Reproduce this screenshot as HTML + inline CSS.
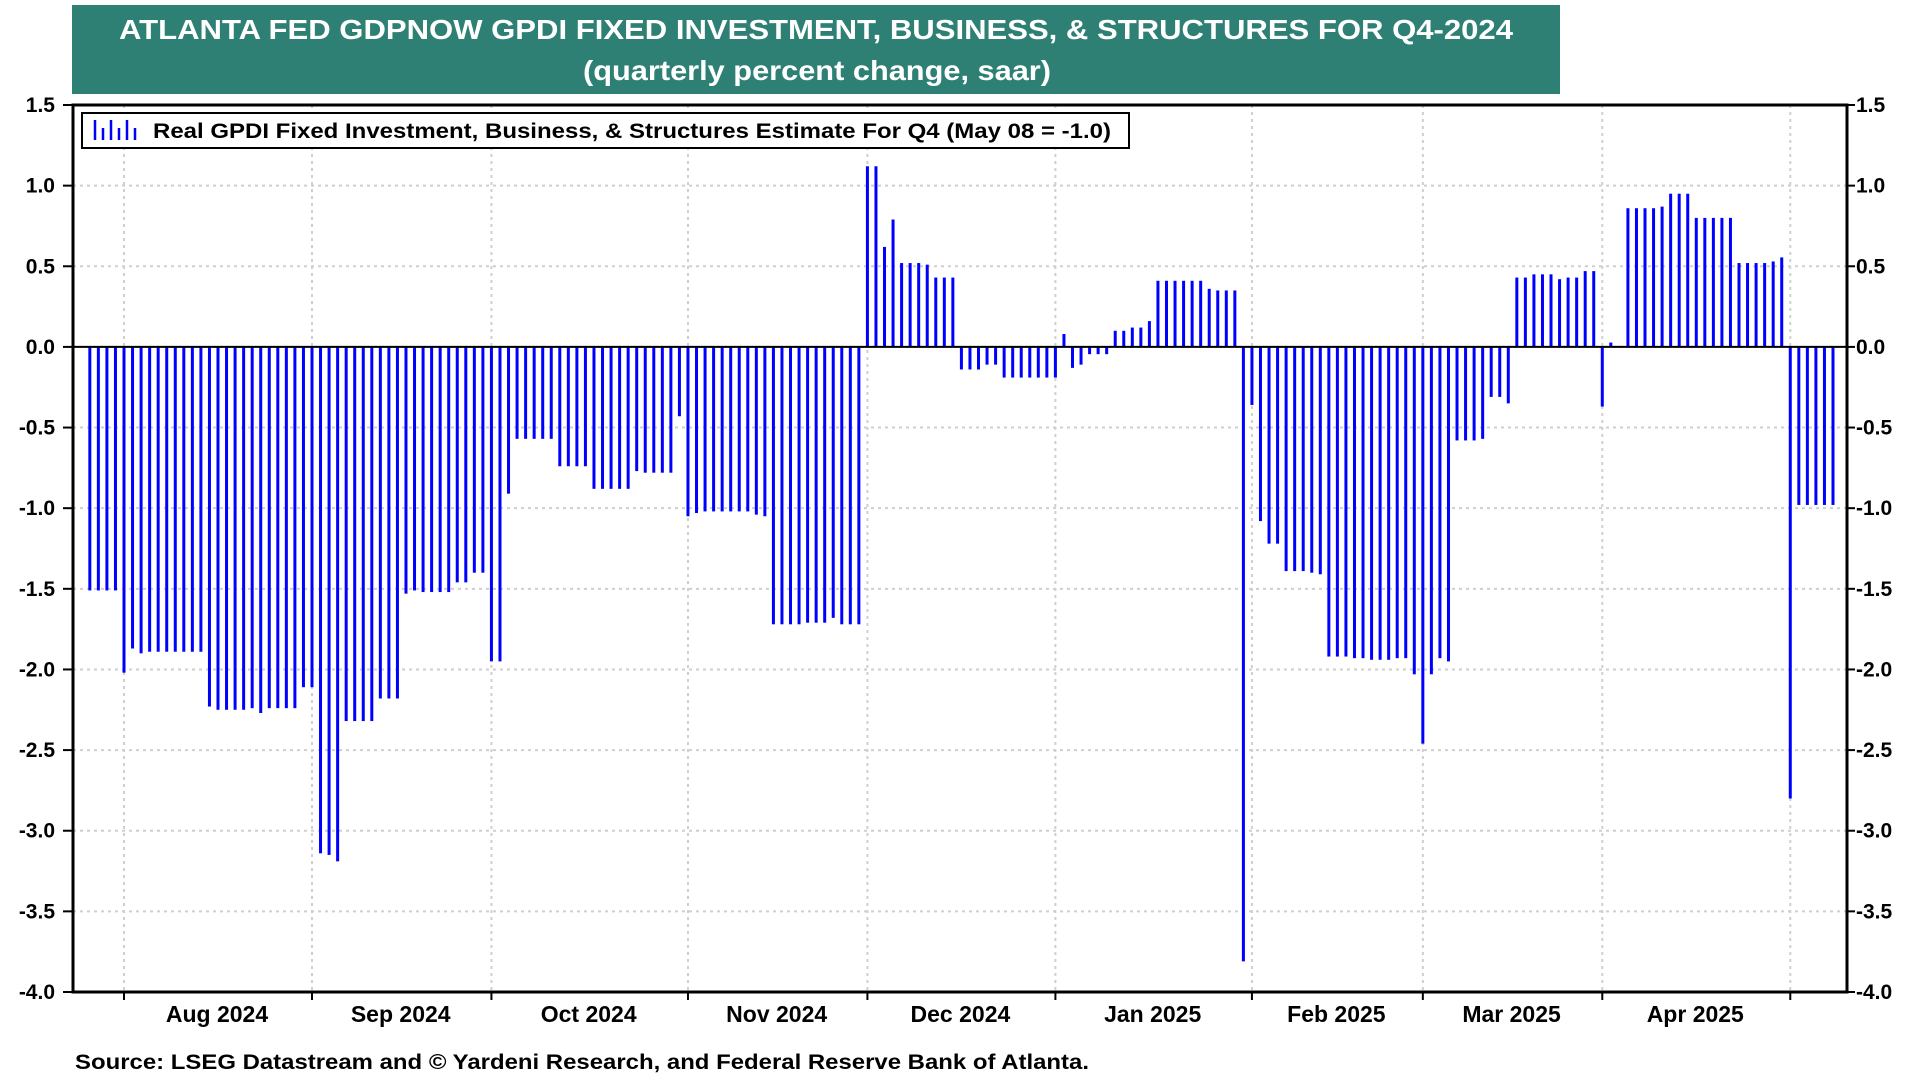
<!DOCTYPE html>
<html><head><meta charset="utf-8"><title>GDPNow GPDI Fixed Investment, Business & Structures</title>
<style>
html,body{margin:0;padding:0;background:#fff;}
svg{display:block;font-family:"Liberation Sans",Arial,sans-serif;font-weight:bold;}
</style></head>
<body>
<svg id="chart" width="1920" height="1080" viewBox="0 0 1920 1080" xmlns="http://www.w3.org/2000/svg">
  <rect x="72" y="5" width="1488" height="89" fill="#2e8074"/>
  <text x="816" y="39" text-anchor="middle" fill="#fff" font-size="28" textLength="1394" lengthAdjust="spacingAndGlyphs">ATLANTA FED GDPNOW GPDI FIXED INVESTMENT, BUSINESS, &amp; STRUCTURES FOR Q4-2024</text>
  <text x="817" y="80" text-anchor="middle" fill="#fff" font-size="28" textLength="468" lengthAdjust="spacingAndGlyphs">(quarterly percent change, saar)</text>
  <g id="grid"></g>
  <g id="bars"></g>
  <g id="axes"></g>
  <rect x="73" y="105" width="1774" height="887" fill="none" stroke="#000" stroke-width="3"/>
  <g>
    <rect x="82" y="113" width="1047" height="35" fill="#fff" stroke="#000" stroke-width="2"/>
    <g stroke="#0000ff" stroke-width="2.5">
      <line x1="95" y1="120" x2="95" y2="140"/><line x1="103" y1="128" x2="103" y2="140"/>
      <line x1="111" y1="120" x2="111" y2="140"/><line x1="119" y1="128" x2="119" y2="140"/>
      <line x1="127" y1="120" x2="127" y2="140"/><line x1="135" y1="128" x2="135" y2="140"/>
    </g>
    <text x="153" y="138" font-size="21" fill="#000" textLength="958" lengthAdjust="spacingAndGlyphs">Real GPDI Fixed Investment, Business, &amp; Structures Estimate For Q4 (May 08 = -1.0)</text>
  </g>
  <text x="75" y="1069" font-size="21" fill="#000" textLength="1014" lengthAdjust="spacingAndGlyphs">Source: LSEG Datastream and © Yardeni Research, and Federal Reserve Bank of Atlanta.</text>
</svg>
<script>
// ---- data (one value per weekday starting Fri Jul 26, 2024) ----
const startDate = "2024-07-26";
const valuesJul = [-1.51,-1.51,-1.51,-1.51];
const valuesAug = [-2.02,-1.87,-1.90,-1.89,-1.89,-1.89,-1.89,-1.89,-1.89,-1.89,-2.23,-2.25,-2.25,-2.25,-2.25,-2.24,-2.27,-2.24,-2.24,-2.24,-2.24,-2.11];
const valuesSep = [-2.11,-3.14,-3.15,-3.19,-2.32,-2.32,-2.32,-2.32,-2.18,-2.18,-2.18,-1.53,-1.51,-1.52,-1.52,-1.52,-1.52,-1.46,-1.46,-1.40,-1.40];
const valuesOct = [-1.95,-1.95,-0.91,-0.57,-0.57,-0.57,-0.57,-0.57,-0.74,-0.74,-0.74,-0.74,-0.88,-0.88,-0.88,-0.88,-0.88,-0.77,-0.78,-0.78,-0.78,-0.78,-0.43];
const valuesNov = [-1.05,-1.03,-1.02,-1.02,-1.02,-1.02,-1.02,-1.02,-1.04,-1.05,-1.72,-1.72,-1.72,-1.72,-1.71,-1.71,-1.71,-1.68,-1.72,-1.72,-1.72];
const valuesDec = [1.12,1.12,0.62,0.79,0.52,0.52,0.52,0.51,0.43,0.43,0.43,-0.14,-0.14,-0.14,-0.11,-0.11,-0.19,-0.19,-0.19,-0.19,-0.19,-0.19];
const valuesJan = [-0.19,0.08,-0.13,-0.11,-0.045,-0.045,-0.045,0.10,0.10,0.12,0.12,0.16,0.41,0.41,0.41,0.41,0.41,0.41,0.36,0.35,0.35,0.35,-3.81];
const valuesFeb = [-0.36,-1.08,-1.22,-1.22,-1.39,-1.39,-1.39,-1.40,-1.41,-1.92,-1.92,-1.92,-1.93,-1.93,-1.94,-1.94,-1.94,-1.93,-1.93,-2.03];
const valuesMar = [-2.46,-2.03,-1.93,-1.95,-0.58,-0.58,-0.58,-0.57,-0.31,-0.31,-0.35,0.43,0.43,0.45,0.45,0.45,0.42,0.43,0.43,0.47,0.47];
const valuesApr = [-0.37,0.027,0.006,0.86,0.86,0.86,0.86,0.87,0.95,0.95,0.95,0.80,0.80,0.80,0.80,0.80,0.52,0.52,0.52,0.52,0.53,0.555];
const valuesMay = [-2.80,-0.98,-0.98,-0.98,-0.98,-0.98];
const yTicks = [1.5,1.0,0.5,0.0,-0.5,-1.0,-1.5,-2.0,-2.5,-3.0,-3.5,-4.0];
const monthStarts = ["2024-08-01","2024-09-01","2024-10-01","2024-11-01","2024-12-01","2025-01-01","2025-02-01","2025-03-01","2025-04-01","2025-05-01"];
const monthLabels = ["Aug 2024","Sep 2024","Oct 2024","Nov 2024","Dec 2024","Jan 2025","Feb 2025","Mar 2025","Apr 2025"];

const values = [].concat(valuesJul,valuesAug,valuesSep,valuesOct,valuesNov,valuesDec,valuesJan,valuesFeb,valuesMar,valuesApr,valuesMay);
const NS = "http://www.w3.org/2000/svg";
const PL = 73, PR = 1847, PT = 105, PB = 992;
const Y_MAX = 1.5, Y_MIN = -4.0;
function yScale(v){ return PT + (Y_MAX - v) / (Y_MAX - Y_MIN) * (PB - PT); }
function parse(s){ const p = s.split("-").map(Number); return Date.UTC(p[0], p[1]-1, p[2]); }
const t0 = parse(startDate);
function weekdayIndex(t){
  let n = 0, d = t0;
  const day = 86400000;
  while (d < t){ const wd = new Date(d).getUTCDay(); if (wd !== 0 && wd !== 6) n++; d += day; }
  return n;
}
const X0 = 124 - 4 * 8.545, DX = 8.545;
function xScale(idx){ return X0 + idx * DX; }
function mk(tag, attrs, parent){ const e = document.createElementNS(NS, tag); for (const k in attrs) e.setAttribute(k, attrs[k]); parent.appendChild(e); return e; }

const grid = document.getElementById("grid");
const axes = document.getElementById("axes");
const barsG = document.getElementById("bars");

yTicks.forEach(function(v){
  const y = yScale(v);
  if (v < Y_MAX && v > Y_MIN) {
    const g = mk("line", {x1: PL, x2: PR, y1: y, y2: y, stroke: "#cfcfcf", "stroke-width": 2, "stroke-dasharray": "3,4"}, grid);
    
    
  }
  const tl = mk("line", {x1: PL-10, x2: PL, y1: y, y2: y, stroke: "#000", "stroke-width": 2}, axes);
  
  
  const tr = mk("line", {x1: PR, x2: PR+8, y1: y, y2: y, stroke: "#000", "stroke-width": 2}, axes);
  
  
  const lab = v.toFixed(1);
  const a = mk("text", {x: 55, y: y+7, "text-anchor": "end", "font-size": 21, fill: "#000"}, axes);
  a.textContent = lab;
  
  
  const b = mk("text", {x: 1856, y: y+7, "text-anchor": "start", "font-size": 21, fill: "#000"}, axes);
  b.textContent = lab;
  
  
});

const mx = monthStarts.map(function(s){ return xScale(weekdayIndex(parse(s))); });
mx.forEach(function(x){
  const g = mk("line", {x1: x, x2: x, y1: PT, y2: PB, stroke: "#cfcfcf", "stroke-width": 2, "stroke-dasharray": "3,4"}, grid);
  
  
  const t = mk("line", {x1: x, x2: x, y1: PB, y2: PB+8, stroke: "#000", "stroke-width": 2}, axes);
  
  
});
monthLabels.forEach(function(m, i){
  const cx = (mx[i] + mx[i+1]) / 2 - 1;
  const t = mk("text", {x: cx, y: 1022, "text-anchor": "middle", "font-size": 23, fill: "#000"}, axes);
  t.textContent = m;
  
  
});

const y0 = yScale(0);
values.forEach(function(v, i){
  const x = xScale(i);
  const yv = yScale(v);
  const r = mk("rect", {x: x - 1.5, y: Math.min(y0, yv), width: 3, height: Math.max(0.5, Math.abs(yv - y0)), fill: "#0000ff"}, barsG);
  
  
});
const z = mk("line", {x1: PL, x2: PR, y1: y0, y2: y0, stroke: "#000", "stroke-width": 2}, axes);


</script>
</body></html>
